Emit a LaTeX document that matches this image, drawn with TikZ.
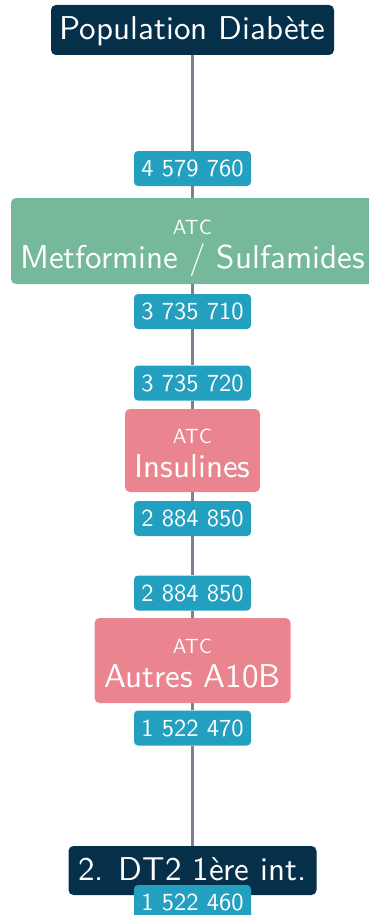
\documentclass[tikz,border=0pt]{standalone}
\usepackage{fontspec}
\usepackage{tikz}
\usetikzlibrary{positioning, backgrounds}
\newfontfamily\flowsans{lmsans10-regular.otf}
\definecolor{FlowNavy}{RGB}{6, 48, 73}
\definecolor{FlowTeal}{RGB}{35, 160, 192}
\definecolor{FlowGreen}{RGB}{118, 184, 154}
\definecolor{FlowPink}{RGB}{234, 132, 143}
\definecolor{FlowLine}{RGB}{125, 128, 144}

\newcommand{\bigtxt}{\fontsize{33}{34}\selectfont}
\newcommand{\atctxt}{\fontsize{20.5}{22}\selectfont}
\newcommand{\cnttxt}{\fontsize{24.5}{26}\selectfont}

\tikzset{
    stage/.style={rounded corners=5pt, text=white, font=\flowsans\bigtxt,
                  align=center, inner sep=0pt},
    endbox/.style={stage, fill=FlowNavy, text height=23pt, text depth=3pt},
    atcbox/.style={stage, fill=#1, text height=54pt, text depth=0pt},
    count/.style={rounded corners=4pt, fill=FlowTeal, text=white,
                  font=\flowsans\cnttxt, minimum width=117pt, minimum height=35pt,
                  inner sep=0pt, text height=16pt, text depth=0pt},
    flow/.style={FlowLine, line width=2.5pt}
}

\begin{document}
\begin{tikzpicture}[x=1pt, y=-1pt]
    \path[use as bounding box] (0,0) rectangle (369,915);

    % Start and end of the chain
    \node[endbox, minimum width=283pt, minimum height=50pt] (pop) at (192.5,30) {Population Diabète};
    \node[endbox, minimum width=248pt, minimum height=49pt] (dtdeux) at (192.5,870.5) {2. DT2 1ère int.};

    % ATC steps
    \node[atcbox=FlowGreen, minimum width=363pt, minimum height=86pt] (metf) at (192.5,241)
        {{\atctxt ATC}\\Metformine / Sulfamides};
    \node[atcbox=FlowPink, minimum width=135pt, minimum height=83pt] (insu) at (192.5,450.5)
        {{\atctxt ATC}\\Insulines};
    \node[atcbox=FlowPink, minimum width=196pt, minimum height=85pt] (autres) at (192.5,660.5)
        {{\atctxt ATC}\\Autres A10B};

    % Counts in and out of each step
    \node[count] (cmetfin) at (192.5,168.5) {4 579 760};
    \node[count] (cmetfout) at (192.5,311.5) {3 735 710};
    \node[count] (cinsuin) at (192.5,383) {3 735 720};
    \node[count] (cinsuout) at (192.5,518.5) {2 884 850};
    \node[count] (cautrin) at (192.5,593) {2 884 850};
    \node[count] (cautrout) at (192.5,728) {1 522 470};
    \node[count] (cdt) at (192.5,902.5) {1 522 460};

    % Connections
    \begin{scope}[on background layer]
        \draw[flow] (pop) -- (cmetfin) -- (metf) -- (cmetfout) -- (cinsuin)
            -- (insu) -- (cinsuout) -- (cautrin) -- (autres) -- (cautrout) -- (dtdeux);
    \end{scope}
\end{tikzpicture}
\end{document}
